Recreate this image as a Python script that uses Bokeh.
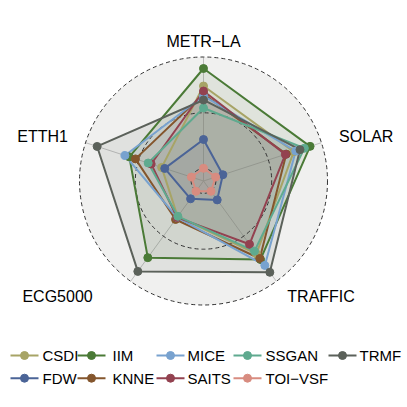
import numpy as np
from bokeh.plotting import figure
from bokeh.models import Range1d
from bokeh.embed import file_html
from bokeh.resources import INLINE
from bokeh.core.properties import value

# ---------------- data ----------------
axis_labels = ["METR\u2212LA", "SOLAR", "TRAFFIC", "ECG5000", "ETTH1"]
methods = ["CSDI", "FDW", "IIM", "KNNE", "MICE", "SAITS", "SSGAN", "TOI\u2212VSF", "TRMF"]
csdi   = [0.740, 0.740, 0.695, 0.283, 0.283]
fdw    = [0.261, 0.071, 0.098, 0.086, 0.254]
iim    = [0.897, 0.893, 0.758, 0.738, 0.588]
knne   = [0.669, 0.669, 0.747, 0.315, 0.530]
mice   = [0.651, 0.758, 0.824, 0.292, 0.629]
saits  = [0.695, 0.660, 0.590, 0.292, 0.382]
ssgan  = [0.543, 0.839, 0.666, 0.280, 0.410]
toivsf = [0.003, 0.003, 0.003, 0.003, 0.003]
trmf   = [0.615, 0.798, 0.900, 0.890, 0.891]
series = [csdi, fdw, iim, knne, mice, saits, ssgan, toivsf, trmf]
colors = ["#A7A466", "#4B6497", "#4A7A36", "#84562D", "#78A2CF",
          "#934250", "#5FAA8F", "#D88C80", "#5B615A"]
grid_min, grid_mid, grid_max = 0.0, 0.5, 1.0

# ---------------- layout ----------------
W = H = 407
CX, CY, R = 203.0, 180.5, 124.0
centre = grid_min - (grid_max - grid_min) / 9.0
n = len(axis_labels)
angles = np.deg2rad(90.0 - 360.0 / n * np.arange(n))

def rad(v):
    return (np.asarray(v, dtype=float) - centre) / (grid_max - centre) * R

def to_xy(vals):
    r = rad(vals)
    return CX + r * np.cos(angles), CY - r * np.sin(angles)

p = figure(width=W, height=H, x_range=Range1d(0, W), y_range=Range1d(H, 0),
           output_backend="svg", toolbar_location=None, min_border=0)
p.axis.visible = False
p.grid.visible = False
p.outline_line_color = None
p.background_fill_color = "white"
p.border_fill_color = "white"

# background disc
p.circle(x=[CX], y=[CY], radius=R, fill_color="#F0F0EF", line_color=None)

# axis spokes
for a in angles:
    p.line([CX, CX + R * np.cos(a)], [CY, CY - R * np.sin(a)], line_color="#BDBDBD", line_width=1)

# filled polygons
for vals, col in zip(series, colors):
    xs, ys = to_xy(vals)
    p.patch(list(xs), list(ys), fill_color=col, fill_alpha=0.1, line_color=None)

# grid circles
for g in [grid_min, grid_mid, grid_max]:
    p.circle(x=[CX], y=[CY], radius=float(rad(g)), fill_color=None,
             line_color="#333333", line_width=1, line_dash="4 3")

# lines
for vals, col in zip(series, colors):
    xs, ys = to_xy(vals)
    p.line(list(xs) + [xs[0]], list(ys) + [ys[0]], line_color=col, line_width=2)

# points
for vals, col in zip(series, colors):
    xs, ys = to_xy(vals)
    p.scatter(list(xs), list(ys), size=8, fill_color=col, line_color=col)

# axis labels
lab_r = R * 1.15
lab_dx = [0, 0, 0, -27, 0]
for i, (lab, a) in enumerate(zip(axis_labels, angles)):
    lx = CX + lab_r * np.cos(a) + lab_dx[i]
    ly = CY - lab_r * np.sin(a)
    if abs(np.cos(a)) < 0.1:
        align = "center"
        ly = ly + 3
    elif np.cos(a) > 0:
        align = "left"
    else:
        align = "right"
    p.text(x=[lx], y=[ly], text=[lab], text_align=align, text_baseline="middle",
           text_font=value("Liberation Sans"), text_font_size="16px", text_color="black")

# legend (two rows, column-major like ggplot)
col_line_x = [10, 77, 156, 233, 328]
col_text_x = [42, 112, 187, 265, 359]
row_y = [355, 377.7]
for i, (m, col) in enumerate(zip(methods, colors)):
    c, r_ = i // 2, i % 2
    x0 = col_line_x[c]
    y0 = row_y[r_]
    p.line([x0, x0 + 28], [y0, y0], line_color=col, line_width=2)
    p.scatter([x0 + 14], [y0], size=8, fill_color=col, line_color=col)
    p.text(x=[col_text_x[c]], y=[y0], text=[m], text_align="left", text_baseline="middle",
           text_font=value("Liberation Sans"), text_font_size="15px", text_color="black")

open("out.html", "w").write(file_html(p, INLINE))
